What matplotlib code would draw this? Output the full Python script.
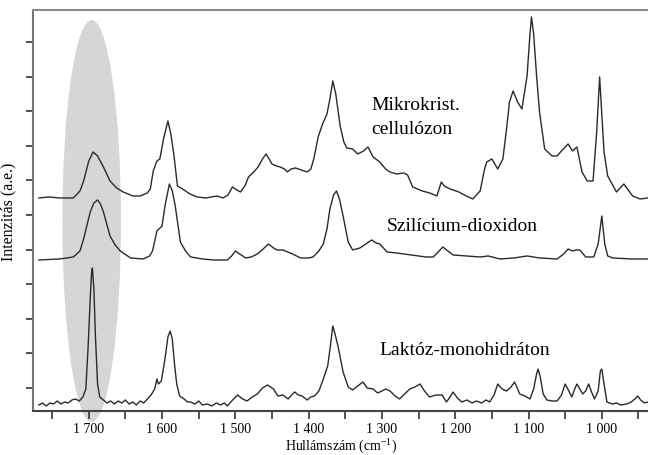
import matplotlib
matplotlib.use('Agg')
import matplotlib.pyplot as plt
import numpy as np
from matplotlib.patches import Ellipse
from matplotlib.ticker import MultipleLocator, FuncFormatter

plt.rcParams['font.family'] = ['Liberation Serif', 'DejaVu Serif']
plt.rcParams['mathtext.fontset'] = 'custom'
plt.rcParams['mathtext.rm'] = 'Liberation Serif'

# mikrokristalyos cellulozon (hullamszam, intenzitas)
cell_x = [1768, 1755, 1740, 1721, 1712, 1707, 1700, 1694, 1688, 1680, 1671, 1662, 1653, 1640, 1630,
          1620, 1616, 1612, 1607, 1603, 1598, 1592, 1588, 1584, 1579, 1572, 1562, 1552, 1540, 1525,
          1517, 1510, 1504, 1498, 1493, 1487, 1482, 1475, 1469, 1463, 1458, 1454, 1450, 1444, 1439,
          1433, 1429, 1424, 1418, 1410, 1402, 1397, 1393, 1387, 1381, 1375, 1371, 1367, 1363, 1357,
          1352, 1348, 1340, 1333, 1325, 1319, 1312, 1303, 1295, 1289, 1280, 1270, 1265, 1258, 1245,
          1235, 1225, 1219, 1215, 1207, 1195, 1185, 1176, 1166, 1160, 1157, 1150, 1142, 1135, 1130,
          1126, 1121, 1115, 1109, 1102, 1098, 1096, 1093, 1089, 1085, 1078, 1068, 1061, 1055, 1046,
          1040, 1034, 1027, 1020, 1012, 1007, 1003, 997, 992, 980, 970, 958, 948, 937]
cell_y = [213, 214, 213, 213, 220, 230, 250, 259, 255, 244, 230, 223, 219, 215, 215,
          218, 222, 240, 250, 252, 272, 290, 277, 257, 225, 222, 217, 214, 213, 215,
          213, 216, 224, 221, 219, 225, 234, 239, 244, 252, 257, 252, 247, 245, 244,
          242, 239, 242, 243, 241, 239, 242, 252, 274, 287, 297, 312, 330, 317, 285,
          269, 263, 262, 257, 260, 264, 254, 249, 242, 239, 237, 238, 236, 224, 220,
          218, 215, 229, 225, 222, 219, 215, 212, 220, 242, 249, 252, 242, 252, 282,
          309, 320, 309, 302, 335, 377, 394, 377, 335, 299, 262, 255, 255, 260, 267,
          260, 264, 239, 230, 230, 279, 334, 259, 235, 219, 227, 215, 212, 213]

# szilicium-dioxidon
sil_x = [1768, 1740, 1721, 1712, 1707, 1698, 1693, 1688, 1684, 1680, 1671, 1664, 1657, 1643, 1626,
         1617, 1613, 1607, 1600, 1596, 1590, 1586, 1582, 1575, 1568, 1561, 1545, 1530, 1511, 1505,
         1500, 1494, 1486, 1478, 1470, 1462, 1455, 1448, 1443, 1435, 1422, 1411, 1400, 1394, 1386,
         1380, 1375, 1371, 1366, 1362, 1358, 1353, 1346, 1340, 1330, 1320, 1314, 1308, 1303, 1293,
         1280, 1260, 1240, 1230, 1222, 1217, 1210, 1203, 1185, 1166, 1155, 1139, 1120, 1102, 1085,
         1061, 1052, 1046, 1040, 1035, 1030, 1022, 1011, 1005, 1000, 996, 992, 985, 960, 937]
sil_y = [151, 152, 154, 160, 172, 199, 208, 211, 207, 199, 175, 166, 160, 153, 152,
         155, 160, 180, 185, 205, 227, 220, 205, 169, 160, 154, 152, 151, 151, 155,
         160, 157, 153, 154, 157, 162, 167, 163, 161, 161, 157, 153, 153, 154, 160,
         167, 182, 202, 216, 220, 212, 195, 169, 161, 163, 168, 171, 168, 167, 159,
         158, 156, 154, 154, 160, 164, 160, 156, 155, 154, 155, 152, 153, 155, 153,
         152, 157, 162, 160, 161, 161, 154, 154, 167, 195, 167, 155, 153, 152, 152]

# laktoz-monohidraton
lak_x = [1768, 1763, 1758, 1753, 1748, 1743, 1738, 1733, 1728, 1723, 1718, 1713, 1708, 1704, 1701,
         1698, 1696, 1695, 1693, 1691, 1688, 1685, 1680, 1675, 1670, 1665, 1660, 1655, 1650, 1645,
         1640, 1635, 1630, 1625, 1620, 1615, 1610, 1607, 1605, 1601, 1596, 1592, 1589, 1586, 1583,
         1580, 1576, 1570, 1565, 1561, 1555, 1550, 1545, 1538, 1532, 1526, 1520, 1515, 1511, 1505,
         1497, 1490, 1484, 1477, 1470, 1463, 1456, 1452, 1448, 1442, 1435, 1428, 1422, 1419, 1414,
         1409, 1402, 1397, 1392, 1386, 1380, 1374, 1370, 1367, 1364, 1360, 1356, 1353, 1346, 1340,
         1333, 1326, 1320, 1312, 1306, 1300, 1295, 1289, 1282, 1276, 1269, 1262, 1255, 1248, 1242,
         1235, 1226, 1218, 1212, 1207, 1203, 1197, 1191, 1184, 1177, 1171, 1164, 1158, 1153, 1147,
         1142, 1136, 1130, 1124, 1119, 1115, 1112, 1105, 1098, 1093, 1089, 1087, 1084, 1080, 1075,
         1068, 1061, 1055, 1050, 1045, 1041, 1037, 1034, 1030, 1026, 1022, 1018, 1014, 1010, 1005,
         1002, 1000, 997, 993, 986, 980, 974, 966, 960, 955, 951, 947, 942, 937]
lak_y = [6, 8, 5, 8, 7, 10, 7, 9, 8, 11, 12, 10, 14, 22, 62,
         112, 140, 143, 122, 77, 27, 14, 11, 8, 10, 7, 10, 8, 11, 7,
         9, 6, 10, 8, 12, 16, 22, 32, 27, 30, 52, 74, 80, 72, 47,
         27, 15, 12, 9, 9, 7, 10, 6, 7, 5, 8, 6, 8, 5, 10,
         16, 12, 10, 14, 17, 23, 26, 24, 22, 15, 16, 12, 17, 19, 16,
         15, 11, 14, 15, 20, 32, 45, 67, 85, 77, 65, 50, 39, 24, 21,
         25, 29, 23, 22, 18, 20, 22, 20, 15, 12, 17, 22, 24, 27, 20,
         14, 16, 16, 9, 14, 19, 13, 9, 11, 8, 10, 8, 11, 9, 16,
         27, 22, 20, 24, 29, 22, 17, 15, 12, 22, 37, 42, 34, 17, 11,
         10, 10, 16, 27, 20, 14, 22, 27, 22, 17, 20, 27, 19, 12, 20,
         40, 42, 27, 9, 7, 8, 6, 7, 9, 12, 15, 11, 8, 9]

fig = plt.figure(figsize=(6.48, 4.56), dpi=100)
ax = fig.add_axes([0.051, 0.0965, 0.949, 0.8795])

# szurke kiemeles 1700 korul
ell = Ellipse((1696, 190), 80, 402, facecolor='#d6d6d6', edgecolor='none',
              zorder=0, clip_on=False)
ax.add_patch(ell)

line_kw = dict(color='#2a2a2a', lw=1.0, zorder=2)
ax.plot(cell_x, cell_y, **line_kw)
ax.plot(sil_x, sil_y, **line_kw)
ax.plot(lak_x, lak_y, **line_kw)

ax.set_xlim(1776, 937)
ax.set_ylim(0, 401)

ax.xaxis.set_major_locator(MultipleLocator(100))
ax.xaxis.set_minor_locator(MultipleLocator(50))
ax.xaxis.set_major_formatter(FuncFormatter(lambda v, p: f"{int(v):,}".replace(',', ' ')))
ax.set_yticks(np.arange(23, 380, 34.6))
ax.set_yticklabels([])
ax.tick_params(axis='x', which='both', direction='out', length=6, width=1.2,
               color='#333333', labelsize=10, pad=2)
ax.tick_params(axis='y', which='both', direction='out', length=5, width=1.2,
               color='#333333')

ax.spines['right'].set_visible(False)
ax.spines['top'].set_color('#8a8a8a')
ax.spines['top'].set_linewidth(1.5)
ax.spines['left'].set_color('#777777')
ax.spines['left'].set_linewidth(1.5)
ax.spines['bottom'].set_color('#444444')
ax.spines['bottom'].set_linewidth(1.5)

ax.set_xlabel(r'Hullámszám (cm$^{-1}$)', fontsize=10)
ax.xaxis.set_label_coords(0.5, -0.06)
ax.set_ylabel('Intenzitás (a.e.)', fontsize=11.5)
ax.yaxis.set_label_coords(-0.027, 0.5)

ax.text(1314, 302, 'Mikrokrist.', fontsize=14, ha='left', va='baseline')
ax.text(1314, 278, 'cellulózon', fontsize=14, ha='left', va='baseline')
ax.text(1293, 181, 'Szilícium-dioxidon', fontsize=14, ha='left', va='baseline')
ax.text(1303, 57, 'Laktóz-monohidráton', fontsize=14, ha='left', va='baseline')

plt.savefig('out.png', dpi=100)
